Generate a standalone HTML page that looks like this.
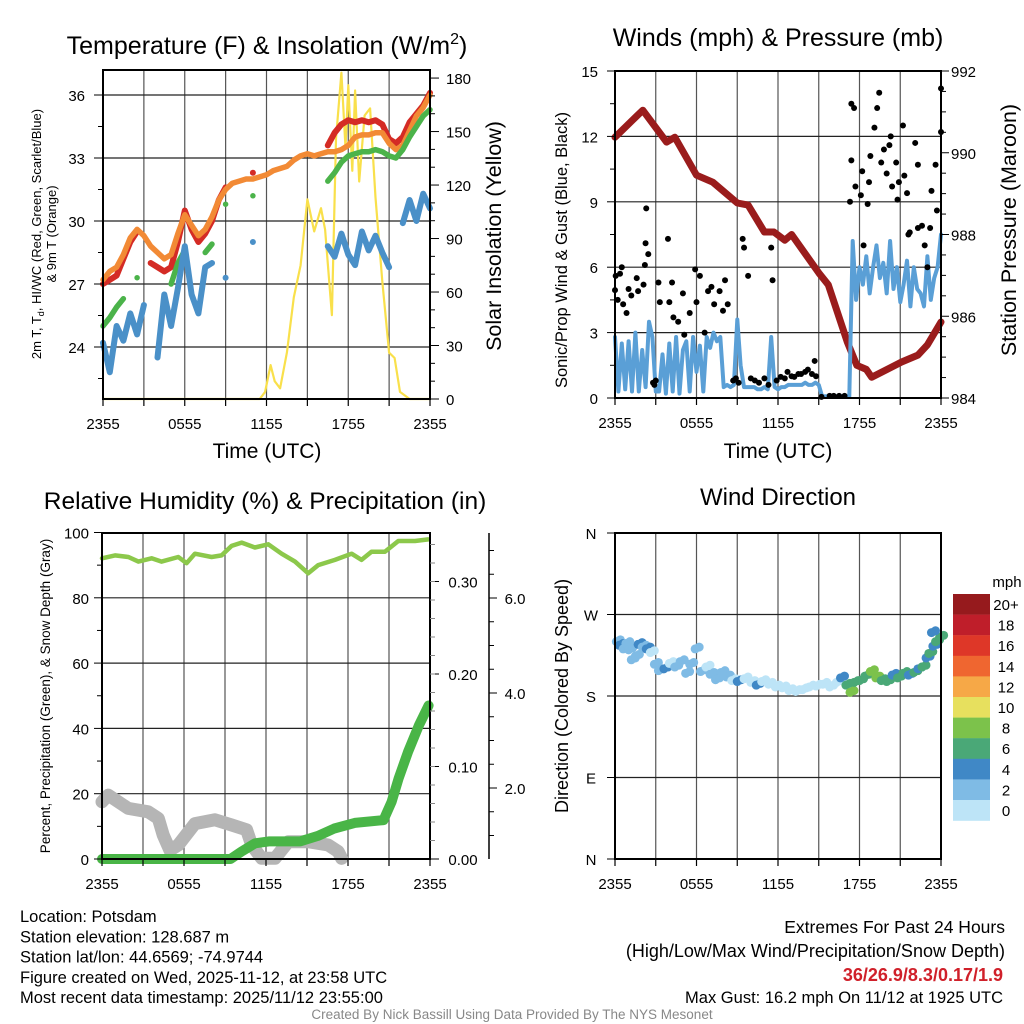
<!DOCTYPE html>
<html><head><meta charset="utf-8"><style>
body{margin:0;background:#fff;}
svg{display:block;font-family:"Liberation Sans",Arial,sans-serif;}
</style></head><body>
<svg id="c" width="1024" height="1024" viewBox="0 0 1024 1024" xmlns="http://www.w3.org/2000/svg"></svg>
<script>
// ---------- DATA ----------
const hours05 = [0,0.5,1,1.5,2,2.5,3,3.5,4,4.5,5,5.5,6,6.5,7,7.5,8,8.5,9,9.5,10,10.5,11,11.5,12,12.5,13,13.5,14,14.5,15,15.5,16,16.5,17,17.5,18,18.5,19,19.5,20,20.5,21,21.5,22,22.5,23,23.5,24];
const tempOrange = [27.2,27.6,27.8,28.4,29.2,29.6,29.3,28.8,28.5,28.2,28.4,29.4,30.3,29.8,29.3,29.6,30.2,31.0,31.5,31.8,31.9,32.0,32.0,32.1,32.2,32.4,32.5,32.6,32.9,33.1,33.2,33.1,33.2,33.3,33.3,33.4,33.6,34.0,34.1,34.1,34.2,34.2,33.7,33.4,33.6,34.3,35.0,35.4,36.0];
const tempRed = [27.0,27.2,27.4,28.2,29.0,29.5,null,28.0,27.8,27.6,27.8,29.0,30.5,29.6,29.0,29.4,30.0,31.0,31.6,null,null,null,32.3,null,null,null,null,null,null,null,null,null,null,33.6,34.2,34.6,34.8,34.7,34.8,34.7,34.8,34.6,33.9,33.7,34.0,34.7,35.1,35.5,36.1];
const tempGreen = [25.0,25.4,25.9,26.3,null,27.3,null,null,null,null,27.0,28.0,28.6,null,null,28.5,28.9,null,30.8,null,null,null,31.2,null,null,null,null,null,null,null,null,null,null,31.9,32.3,32.8,33.1,33.2,33.3,33.3,33.4,33.3,33.1,33.0,33.4,34.0,34.5,35.0,35.3];
const tempBlue = [24.2,22.8,25.0,24.3,25.6,24.6,26.0,null,23.5,26.5,25.0,26.8,28.8,26.5,25.6,27.8,28.0,null,27.3,null,null,null,29.0,null,null,null,null,null,null,null,null,null,null,28.8,28.3,29.4,28.4,27.9,29.5,28.6,29.3,28.5,27.8,null,29.9,31.0,30.0,31.3,30.6];
const solHours = [0,11.5,11.9,12.3,12.6,13.0,13.5,14.0,14.5,15.0,15.5,16.0,16.3,16.8,17.1,17.5,17.8,18.0,18.3,18.5,18.8,19.2,19.6,20.0,20.5,21.0,21.4,21.8,22.5,24];
const solValues = [0,0,4,19,10,6,26,57,75,112,94,107,95,47,146,183,141,176,128,173,122,159,163,113,66,26,23,4,0,0];
const tempTicks = [24,27,30,33,36];
const solTicks = [0,30,60,90,120,150,180];
const timeLabels = ["2355","0555","1155","1755","2355"];

const presHours = [0,2.05,3.8,4.4,6,7.2,9,9.8,11,11.7,12.5,13,15,15.7,17.1,17.8,18.5,18.9,21.1,22.3,23,24];
const presValues = [990.38,991.04,990.26,990.38,989.45,989.28,988.77,988.72,988.06,988.06,987.86,988.0,987.06,986.77,985.37,984.8,984.7,984.51,984.88,985.05,985.3,985.86];
const windValues = [2.8,0.3,2.5,0.4,2.6,0.3,3.0,0.3,2.2,0.5,3.5,2.8,0.3,0.3,2.0,0.2,2.5,0.3,2.8,0.2,2.2,2.6,0.3,2.8,1.2,2.4,0.3,2.8,2.3,3.0,2.6,2.8,0.5,
0.6,0.5,0.6,3.6,1.5,0.5,0.5,0.5,0.5,0.4,0.4,0.5,0.4,2.8,0.5,0.4,0.5,0.5,0.6,0.6,0.6,0.6,0.6,0.7,0.6,0.6,0.7,0.6,
0.08,0.08,0.08,0.08,0.08,0.08,0.08,0.08,0.08,
7.2,4.5,6.0,5.2,6.5,4.8,6.0,7.0,5.5,6.2,4.8,7.2,5.0,6.0,4.4,5.2,6.3,4.2,6.0,5.0,4.8,4.2,6.5,4.5,5.5,6.0,7.5];
const gustHours = [0,0.05,0.2,0.37,0.5,0.6,0.85,1,1.2,1.6,1.7,2.1,2.2,2.3,2.45,2.25,2.8,2.9,3.0,3.2,3.3,3.9,4.0,4.2,4.3,4.65,5.0,5.1,5.5,5.9,6.0,6.25,6.6,6.85,7.1,7.3,7.7,7.95,8.1,8.3,8.7,8.9,9.1,9.4,9.5,9.8,10.0,10.3,10.6,11.0,11.3,11.5,11.6,11.9,12.2,12.5,12.7,13.0,13.2,13.5,13.7,14.0,14.2,14.5,14.7,14.8,15.2,15.8,16.1,16.5,16.9,17.3,17.4,17.6,17.4,17.7,18.1,18.2,18.3,18.6,18.7,18.8,19.1,19.3,19.45,19.6,19.8,20.0,20.2,20.3,20.4,20.7,20.8,20.9,21.2,21.3,21.5,21.6,21.7,22.1,22.3,22.3,22.6,22.8,23.0,23.2,23.3,23.6,23.7,24.0,24.0];
const gustValues = [4.95,5.6,4.5,5.7,6.0,4.3,3.9,5.0,4.7,5.5,4.9,5.2,6.1,8.7,6.6,7.1,0.7,0.6,0.8,5.3,4.4,7.3,4.4,5.3,3.7,3.5,4.8,2.9,3.9,5.9,4.4,5.6,3.0,4.9,5.1,4.3,4.9,4.0,5.4,4.3,0.8,0.9,0.7,7.3,6.9,5.6,0.9,0.8,0.7,0.9,0.6,6.9,5.4,0.8,0.97,0.9,1.2,1.0,0.97,1.1,1.1,1.2,1.3,1.1,1.7,1.0,0.05,0.1,0.1,0.1,0.1,9.0,13.5,13.3,10.9,9.7,9.3,10.4,7.0,8.9,9.9,11.1,12.4,13.3,14.0,10.8,11.4,10.3,11.6,12.0,9.7,10.8,9.1,9.9,12.5,10.2,9.4,7.5,7.6,11.7,10.7,7.8,7.9,7.0,6.0,7.8,9.5,10.7,8.6,12.2,14.2];
const windTicks = [0,3,6,9,12,15];
const presTicks = [984,986,988,990,992];

const rhHours = [0,0.95,1.93,2.66,3.63,4.36,5.58,6.19,6.8,8.02,8.75,9.48,10.22,11.19,12.17,13.14,14.12,15.09,15.82,17.04,18.26,18.99,19.72,20.7,21.68,22.9,23.87];
const rhValues = [92.1,93.0,92.5,91.1,92.1,91.1,92.5,90.6,93.5,92.5,93.0,95.9,96.9,95.4,96.4,93.5,91.1,87.5,90.0,91.6,93.5,91.6,94.1,94.1,97.4,97.4,97.9];
const precipHours = [0,9.4,10.2,11.2,12.2,14.5,15.8,17.0,18.5,20.6,21.2,21.7,22.4,23.2,23.9];
const precipValues = [0,0,0.008,0.017,0.019,0.019,0.025,0.033,0.039,0.042,0.062,0.087,0.116,0.145,0.166];
const snowHours = [0,0.46,1.92,3.38,4.12,4.48,4.97,5.58,6.8,8.27,9.49,10.58,10.95,11.68,12.66,13.63,15.09,16.55,17.28,17.53];
const snowValues = [1.71,1.85,1.57,1.50,1.36,1.01,0.69,0.80,1.25,1.33,1.22,1.12,0.80,0.52,0.52,0.87,0.87,0.80,0.66,0.52];
const rhTicks = [0,20,40,60,80,100];
const precipTicks = [0,0.1,0.2,0.3];
const snowTicks = [2,4,6];

const dirHours = [0.1,0.3,0.6,0.8,1.0,1.2,1.5,1.7,2.0,2.3,2.6,2.9,3.2,3.6,4.0,4.4,4.8,5.2,5.5,5.9,6.3,6.7,7.0,7.4,7.8,8.2,8.6,9.0,9.5,10.0,10.4,10.8,11.3,11.8,12.3,12.8,13.3,13.8,14.3,14.8,15.3,15.8,16.3,16.6,17.0,17.3,17.6,18.0,18.4,18.8,19.2,19.6,20.0,20.4,20.8,21.2,21.6,22.0,22.3,22.6,22.9,23.1,23.4,23.6,23.9,23.3];
const dirValues = [240,236,232,238,231,220,224,237,234,232,228,215,208,210,216,212,218,205,215,232,207,212,204,198,206,201,197,196,199,195,192,196,193,190,189,186,185,187,190,191,193,190,195,200,192,184,195,197,202,207,200,197,196,203,200,205,203,206,210,212,222,227,235,240,245,250];
const dirSpeeds = [2,4,2,2,2,2,2,4,2,4,0,2,2,4,0,2,2,2,2,2,2,0,2,2,2,2,0,4,0,0,4,0,0,0,0,0,0,0,0,0,0,0,0,4,6,8,6,6,6,8,8,6,6,4,6,6,4,6,4,6,4,6,4,6,6,4];
const cbLabels = ["20+","18","16","14","12","10","8","6","4","2","0"];
const cbColors = ["#961a1d","#bf1e2a","#de3728","#ef6630","#f6a847","#e7e05e","#7cc24b","#4aa877","#4088c6","#7fbbe5","#bde4f7"];

// ---------- HELPERS ----------
const svg = document.getElementById('c');
const NS = 'http://www.w3.org/2000/svg';
function mk(tag, attrs, parent){const e=document.createElementNS(NS,tag);for(const k in attrs)e.setAttribute(k,attrs[k]);(parent||svg).appendChild(e);return e;}
function txt(s,x,y,size,anchor,parent,extra){const e=mk('text',Object.assign({x:x,y:y,'font-size':size,'text-anchor':anchor||'middle',fill:'#000'},extra||{}),parent);e.textContent=s;return e;}

function panelFrame(P,name){
  const g=mk('g',{});
  
  
  return g;
}
function vgrid(P,g){
  for(let i=1;i<8;i++){const x=P.x0+(P.x1-P.x0)*i/8;const l=mk('line',{x1:x,y1:P.y0,x2:x,y2:P.y1,stroke:'#555','stroke-width':1.2},g);
  
  }
}
function hgrid(P,g,ys){
  ys.forEach(y=>{const l=mk('line',{x1:P.x0,y1:y,x2:P.x1,y2:y,stroke:'#222','stroke-width':1.2},g);
  
  });
}
function xaxis(P,g){
  for(let i=0;i<=8;i++){const x=P.x0+(P.x1-P.x0)*i/8;mk('line',{x1:x,y1:P.y1,x2:x,y2:P.y1+7,stroke:'#000','stroke-width':1.2},g);}
  timeLabels.forEach((s,i)=>{const t=txt(s,P.x0+(P.x1-P.x0)*i/4,P.y1+30,15,'middle',g);
  
  });
}
function box(P,g){const r=mk('rect',{x:P.x0,y:P.y0,width:P.x1-P.x0,height:P.y1-P.y0,fill:'none',stroke:'#000','stroke-width':2},g);
  
  }
function seriesLine(xs,ys,fx,fy,color,w,g,name){
  let segs=[],cur=[];
  for(let i=0;i<xs.length;i++){if(ys[i]===null){if(cur.length)segs.push(cur);cur=[];}else cur.push(fx(xs[i]).toFixed(1)+','+fy(ys[i]).toFixed(1));}
  if(cur.length)segs.push(cur);
  const grp=mk('g',{},g);
  
  
  segs.forEach(s=>{
    if(s.length===1){const p=s[0].split(',');mk('circle',{cx:p[0],cy:p[1],r:w/2,fill:color},grp);}
    else mk('polyline',{points:s.join(' '),fill:'none',stroke:color,'stroke-width':w,'stroke-linejoin':'round','stroke-linecap':'round'},grp);
  });
  return grp;
}

// ---------- PANEL 1 ----------
const P1={x0:103,x1:430,y0:70,y1:399};
const x1f=h=>P1.x0+h*(P1.x1-P1.x0)/24;
const yT=T=>95+(36-T)*21;
const yS=S=>399-S*1.783;
const g1=panelFrame(P1,'temperature-panel');
vgrid(P1,g1);hgrid(P1,g1,tempTicks.map(yT));
seriesLine(solHours,solValues,x1f,yS,'#f9e04b',2.2,g1,'insolation-line');
seriesLine(hours05,tempRed,x1f,yT,'#d42b25',6,g1,'temp-2m-red');
seriesLine(hours05,tempOrange,x1f,yT,'#f28a35',5.5,g1,'temp-9m-orange');
seriesLine(hours05,tempGreen,x1f,yT,'#4bb34a',5.5,g1,'dewpoint-green');
seriesLine(hours05,tempBlue,x1f,yT,'#4a90c8',6,g1,'windchill-blue');
box(P1,g1);xaxis(P1,g1);
tempTicks.forEach(v=>{mk('line',{x1:P1.x0-9,y1:yT(v),x2:P1.x0,y2:yT(v),stroke:'#000'},g1);const t=txt(String(v),85,yT(v)+6,15,'end',g1);

});
tempTicks.forEach(v=>{mk('line',{x1:P1.x0-5,y1:yT(v-1.5),x2:P1.x0,y2:yT(v-1.5),stroke:'#000'},g1);});
solTicks.forEach(v=>{mk('line',{x1:P1.x1,y1:yS(v),x2:P1.x1+9,y2:yS(v),stroke:'#000'},g1);const t=txt(String(v),446,yS(v)+6,15,'start',g1);

});
for(let v=10;v<185;v+=10){if(v%30)mk('line',{x1:P1.x1,y1:yS(v),x2:P1.x1+5,y2:yS(v),stroke:'#000'},g1);}
let t;
t=txt('',267,54,25,'middle',g1);t.innerHTML='Temperature (F) &amp; Insolation (W/m<tspan dy="-10" font-size="16">2</tspan><tspan dy="10">)</tspan>';


t=txt('Time (UTC)',267,458,21,'middle',g1);


t=txt('',0,0,13,'middle',g1,{transform:'translate(41,234) rotate(-90)'});t.innerHTML='2m T, T<tspan dy="3" font-size="9">d</tspan><tspan dy="-3">, HI/WC (Red, Green, Scarlet/Blue)</tspan>';


t=txt('& 9m T (Orange)',0,0,13,'middle',g1,{transform:'translate(56,234) rotate(-90)'});


t=txt('Solar Insolation (Yellow)',0,0,21.5,'middle',g1,{transform:'translate(501,236) rotate(-90)'});



// ---------- PANEL 2 ----------
const P2={x0:615,x1:941,y0:71,y1:398};
const x2f=h=>P2.x0+h*(P2.x1-P2.x0)/24;
const yW=v=>398-v*21.8;
const yP=p=>398-(p-984)*40.875;
const g2=panelFrame(P2,'wind-panel');
vgrid(P2,g2);hgrid(P2,g2,[3,6,9,12].map(yW));
seriesLine(presHours,presValues,x2f,yP,'#9a1c1c',7,g2,'pressure-line');
const windHours=windValues.map((v,i)=>i*0.25);
seriesLine(windHours,windValues,x2f,yW,'#5a9fd6',4,g2,'wind-speed-line');
const gg=mk('g',{},g2);


gustHours.forEach((h,i)=>{mk('circle',{cx:x2f(h),cy:yW(gustValues[i]),r:3,fill:'#000'},gg);});
box(P2,g2);xaxis(P2,g2);
windTicks.forEach(v=>{mk('line',{x1:P2.x0-8,y1:yW(v),x2:P2.x0,y2:yW(v),stroke:'#000'},g2);const t=txt(String(v),598,yW(v)+6,15,'end',g2);

});
windTicks.forEach(v=>{if(v<15)mk('line',{x1:P2.x0-5,y1:yW(v+1.5),x2:P2.x0,y2:yW(v+1.5),stroke:'#000'},g2);});
presTicks.forEach(v=>{mk('line',{x1:P2.x1,y1:yP(v),x2:P2.x1+8,y2:yP(v),stroke:'#000'},g2);const t=txt(String(v),951,yP(v)+6,15,'start',g2);

});
for(let p=984.5;p<992;p+=0.5){if(p%2)mk('line',{x1:P2.x1,y1:yP(p),x2:P2.x1+5,y2:yP(p),stroke:'#000'},g2);}
t=txt('Winds (mph) & Pressure (mb)',778,46,25,'middle',g2);


t=txt('Time (UTC)',778,458,21,'middle',g2);


t=txt('Sonic/Prop Wind & Gust (Blue, Black)',0,0,16.5,'middle',g2,{transform:'translate(567,250) rotate(-90)'});


t=txt('Station Pressure (Maroon)',0,0,21.5,'middle',g2,{transform:'translate(1016,230) rotate(-90)'});



// ---------- PANEL 3 ----------
const P3={x0:102,x1:430,y0:533,y1:859};
const x3f=h=>P3.x0+h*(P3.x1-P3.x0)/24;
const yRH=v=>859-v*3.265;
const yPr=v=>859-v*925;
const ySn=v=>883-v*47.5;
const g3=panelFrame(P3,'humidity-panel');
vgrid(P3,g3);hgrid(P3,g3,[20,40,60,80].map(yRH));
seriesLine(snowHours,snowValues,x3f,ySn,'#b5b5b5',13,g3,'snow-depth-line');
seriesLine(precipHours,precipValues,x3f,yPr,'#49b547',10,g3,'precip-line');
seriesLine(rhHours,rhValues,x3f,yRH,'#8cc84b',4.5,g3,'rh-line');
box(P3,g3);xaxis(P3,g3);
rhTicks.forEach(v=>{mk('line',{x1:P3.x0-8,y1:yRH(v),x2:P3.x0,y2:yRH(v),stroke:'#000'},g3);const t=txt(String(v),89,yRH(v)+6,15,'end',g3);

});
rhTicks.forEach(v=>{if(v<100)mk('line',{x1:P3.x0-5,y1:yRH(v+10),x2:P3.x0,y2:yRH(v+10),stroke:'#000'},g3);});
precipTicks.forEach(v=>{mk('line',{x1:P3.x1,y1:yPr(v),x2:P3.x1+9,y2:yPr(v),stroke:'#000'},g3);const t=txt(v.toFixed(2),463,yPr(v)+6,15,'middle',g3);

});
for(let v=0.02;v<0.35;v+=0.02){mk('line',{x1:P3.x1,y1:yPr(v),x2:P3.x1+5,y2:yPr(v),stroke:'#888'},g3);}
mk('line',{x1:489,y1:533,x2:489,y2:859,stroke:'#000','stroke-width':1.5},g3);
snowTicks.forEach(v=>{mk('line',{x1:489,y1:ySn(v),x2:497,y2:ySn(v),stroke:'#000'},g3);const t=txt(v.toFixed(1),515,ySn(v)+6,15,'middle',g3);

});
for(let v=1;v<7.5;v+=0.5){if(v%2)mk('line',{x1:489,y1:ySn(v),x2:494,y2:ySn(v),stroke:'#000'},g3);}
t=txt('Relative Humidity (%) & Precipitation (in)',265,509,24.5,'middle',g3);


t=txt('Percent, Precipitation (Green), & Snow Depth (Gray)',0,0,13.5,'middle',g3,{transform:'translate(50,696) rotate(-90)'});



// ---------- PANEL 4 ----------
const P4={x0:615,x1:941,y0:533,y1:859};
const x4f=h=>P4.x0+h*(P4.x1-P4.x0)/24;
const yD=d=>859-d*(326/360);
const g4=panelFrame(P4,'direction-panel');
vgrid(P4,g4);hgrid(P4,g4,[90,180,270].map(yD));
const dg=mk('g',{},g4);


dirHours.forEach((h,i)=>{const idx=10-Math.min(10,Math.floor(dirSpeeds[i]/2));
  mk('circle',{cx:x4f(h),cy:yD(dirValues[i]),r:4.5,fill:cbColors[idx]},dg);
  mk('circle',{cx:x4f(h)+4,cy:yD(dirValues[i]+2),r:4.5,fill:cbColors[idx]},dg);});
box(P4,g4);xaxis(P4,g4);
['N','E','S','W','N'].forEach((s,i)=>{const y=yD(i*90);mk('line',{x1:P4.x0-8,y1:y,x2:P4.x0,y2:y,stroke:'#000'},g4);const t=txt(s,591,y+6,15,'middle',g4);

});
t=txt('Wind Direction',778,505,24,'middle',g4);


t=txt('Direction (Colored By Speed)',0,0,18,'middle',g4,{transform:'translate(568,696) rotate(-90)'});


// colorbar
const cb=mk('g',{});


cbColors.forEach((c,i)=>{mk('rect',{x:953,y:594+i*20.6,width:37,height:20.8,fill:c},cb);
  const t=txt(cbLabels[i],1006,594+i*20.6+16,15,'middle',cb);
  
  });
t=txt('mph',1007,587,15,'middle',cb);



// ---------- TEXT ----------
const info=["Location: Potsdam","Station elevation: 128.687 m","Station lat/lon: 44.6569; -74.9744","Figure created on Wed, 2025-11-12, at 23:58 UTC","Most recent data timestamp: 2025/11/12 23:55:00"];
info.forEach((s,i)=>{const t=txt(s,20,922+i*20.3,16.5,'start');

});
t=txt('Extremes For Past 24 Hours',1005,933,17.5,'end');


t=txt('(High/Low/Max Wind/Precipitation/Snow Depth)',1005,957,18,'end');


t=txt('36/26.9/8.3/0.17/1.9',1003,981,18,'end',null,{fill:'#d0202a','font-weight':'bold'});


t=txt('Max Gust: 16.2 mph On 11/12 at 1925 UTC',1003,1003,16.5,'end');


t=txt('Created By Nick Bassill Using Data Provided By The NYS Mesonet',512,1019,13.5,'middle',null,{fill:'#888'});


</script>
</body></html>
